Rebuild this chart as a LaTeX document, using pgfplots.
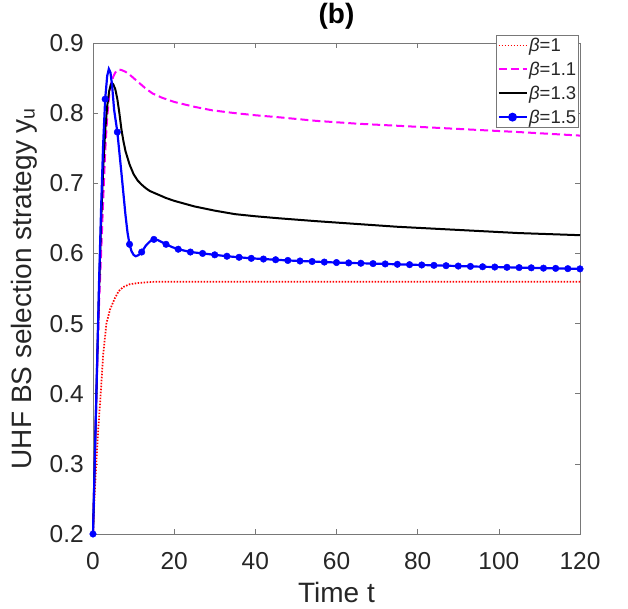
\documentclass[border=0pt]{standalone}
\usepackage{pgfplots}
\pgfplotsset{compat=1.18}
\usepackage{fontspec}
\setmainfont{Liberation Sans}
\definecolor{axgray}{RGB}{120,120,120}
\definecolor{txt}{RGB}{38,38,38}
\definecolor{mblue}{RGB}{0,0,255}
\definecolor{mred}{RGB}{255,0,0}
\definecolor{mmag}{RGB}{255,0,255}
\begin{document}
\begin{tikzpicture}
\useasboundingbox (-93pt,-75pt) rectangle (535pt,534pt);
\begin{axis}[
  at={(0pt,0pt)}, anchor=south west,
  scale only axis, width=487pt, height=491pt,
  xmin=0, xmax=120, ymin=0.2, ymax=0.9,
  xtick={0,20,40,60,80,100,120},
  ytick={0.2,0.3,0.4,0.5,0.6,0.7,0.8,0.9},
  ticklabel style={font=\fontsize{24.5}{29}\selectfont, text=txt},
  yticklabel style={inner xsep=9pt, /pgf/number format/.cd, fixed, fixed zerofill, precision=1},
  /pgf/number format/assume math mode=true,
  tick align=inside, xtick pos=both, ytick pos=both,
  major tick length=5pt,
  tick style={axgray, line width=0.6pt},
  axis line style={axgray, line width=0.6pt},
  xticklabel style={anchor=base, yshift=-36pt},
  xlabel={Time t},
  xlabel style={font=\fontsize{28}{32}\selectfont, text=txt, inner sep=1pt, at={(axis description cs:0.5,-0.1385)}, anchor=base},
  ylabel={UHF BS selection strategy y\textsubscript{u}},
  ylabel style={font=\fontsize{28}{32}\selectfont, text=txt, at={(axis description cs:-0.1273,0.5)}, anchor=base, rotate=0},
  title={(b)},
  every axis title shift/.style={yshift=0pt},
  title style={font=\bfseries\fontsize{28}{32}\selectfont, text=black, at={(axis description cs:0.5,1.042)}, anchor=center},
  clip=false,
  legend cell align=left,
  legend image code/.code={\draw[mark repeat=2,mark phase=2,#1] plot coordinates {(0pt,0pt) (14pt,0pt) (28pt,0pt)};},
  legend style={at={(axis description cs:0.998,1.017)}, anchor=north east,
    draw=axgray, line width=0.6pt, fill=white, font=\fontsize{18.5}{20}\selectfont,
    inner sep=1pt, row sep=5pt, nodes={inner xsep=1.5pt, inner ysep=2pt}},
]
% beta = 1
\addplot[color=mred, line width=1.7pt, dash pattern=on 1.5pt off 1.5pt] coordinates {
(0,0.2) (0.2,0.228) (0.4,0.255) (0.8,0.3) (1.3,0.35) (1.9,0.4) (2.5,0.455) (3.3,0.5) (4.2,0.52) (5.3,0.535) (6.3,0.546) (7.4,0.552) (9,0.556) (11.3,0.558) (15,0.5595) (20,0.5597) (40,0.5597) (60,0.5597) (80,0.5597) (100,0.5597) (120,0.5597)
};
\addlegendentry{\textcolor{txt}{{\itshape β}=1}}
% beta = 1.1
\addplot[color=mmag, line width=2pt, dash pattern=on 8pt off 4pt] coordinates {
(0,0.2) (0.5,0.32) (1,0.43) (1.5,0.53) (2,0.6) (2.5,0.675) (3,0.745) (3.5,0.795) (4,0.825) (4.5,0.843) (5,0.852) (5.5,0.858) (6,0.861) (6.5,0.862) (7,0.8615) (8,0.859) (9,0.855) (10,0.85) (11,0.845) (12,0.84) (13,0.835) (14.7,0.828) (17,0.822) (20,0.816) (25,0.809) (29.4,0.804) (35,0.8) (40,0.797) (46,0.794) (55,0.789) (65,0.785) (75,0.782) (85,0.779) (95,0.776) (105,0.773) (120,0.768)
};
\addlegendentry{\textcolor{txt}{{\itshape β}=1.1}}
% beta = 1.3
\addplot[color=black, line width=2pt] coordinates {
(0,0.2) (0.5,0.32) (1,0.44) (1.5,0.55) (2,0.645) (2.5,0.72) (3,0.775) (3.5,0.81) (4,0.832) (4.4,0.841) (4.7,0.843) (5,0.841) (5.5,0.834) (6,0.82) (6.5,0.8) (7,0.777) (7.5,0.76) (8,0.746) (9,0.727) (10,0.713) (11,0.704) (12,0.698) (13,0.693) (14,0.689) (16,0.684) (18,0.679) (20,0.675) (25,0.667) (30,0.661) (35,0.656) (40,0.653) (46,0.650) (55,0.646) (65,0.642) (75,0.638) (85,0.635) (95,0.632) (105,0.629) (120,0.626)
};
\addlegendentry{\textcolor{txt}{{\itshape β}=1.3}}
% beta = 1.5 line
\addplot[color=mblue, line width=2.2pt, forget plot] coordinates {
(0,0.2) (0.5,0.32) (1,0.44) (1.5,0.56) (2,0.665) (2.5,0.755) (3,0.82) (3.5,0.853) (3.9,0.863) (4.3,0.858) (4.7,0.84) (5.2,0.805) (6,0.773) (7,0.715) (8,0.655) (8.5,0.63) (9,0.613) (9.5,0.603) (10,0.598) (10.5,0.596) (11,0.597) (11.5,0.599) (12,0.602) (13,0.611) (14,0.617) (15,0.62) (16,0.619) (17,0.616) (18,0.613) (19.5,0.609) (21,0.606) (24,0.602) (27,0.600) (30,0.598) (33,0.596) (36,0.5945) (39,0.593) (42,0.592) (45,0.591) (48,0.590) (51,0.5892) (54,0.5885) (57,0.5877) (60,0.587) (63,0.5865) (66,0.586) (69,0.5855) (72,0.585) (75,0.5845) (78,0.584) (81,0.5835) (84,0.583) (87,0.5825) (90,0.582) (93,0.5815) (96,0.581) (99,0.5806) (102,0.5802) (105,0.5798) (108,0.5795) (111,0.579) (114,0.5787) (117,0.5783) (120,0.578)
};
% beta = 1.5 markers
\addplot[color=mblue, only marks, mark=*, mark size=3.3pt, forget plot] coordinates {
(0,0.2) (3,0.82) (6,0.773) (9,0.613) (12,0.602) (15,0.62) (18,0.613) (21,0.606) (24,0.602) (27,0.600) (30,0.598) (33,0.596) (36,0.5945) (39,0.593) (42,0.592) (45,0.591) (48,0.590) (51,0.5892) (54,0.5885) (57,0.5877) (60,0.587) (63,0.5865) (66,0.586) (69,0.5855) (72,0.585) (75,0.5845) (78,0.584) (81,0.5835) (84,0.583) (87,0.5825) (90,0.582) (93,0.5815) (96,0.581) (99,0.5806) (102,0.5802) (105,0.5798) (108,0.5795) (111,0.579) (114,0.5787) (117,0.5783) (120,0.578)
};
\addlegendimage{color=mblue, line width=2.2pt, mark=*, mark size=3.3pt}
\addlegendentry{\textcolor{txt}{{\itshape β}=1.5}}
\end{axis}
\end{tikzpicture}
\end{document}
